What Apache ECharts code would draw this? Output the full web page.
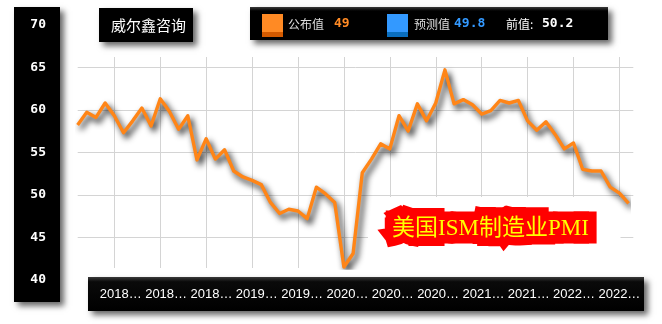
<!DOCTYPE html>
<html><head><meta charset="utf-8">
<script src="https://cdn.jsdelivr.net/npm/echarts@6/dist/echarts.min.js"></script>
<style>html,body{margin:0;padding:0;background:#fff}#c{width:662px;height:324px}</style>
</head><body><div id="c"></div>
<script>
// ---- data ----
const categories = [
  '2017-09-01','2017-10-01','2017-11-01','2017-12-01',
  '2018-01-01','2018-02-01','2018-03-01','2018-04-01','2018-05-01','2018-06-01','2018-07-01','2018-08-01','2018-09-01','2018-10-01','2018-11-01','2018-12-01',
  '2019-01-01','2019-02-01','2019-03-01','2019-04-01','2019-05-01','2019-06-01','2019-07-01','2019-08-01','2019-09-01','2019-10-01','2019-11-01','2019-12-01',
  '2020-01-01','2020-02-01','2020-03-01','2020-04-01','2020-05-01','2020-06-01','2020-07-01','2020-08-01','2020-09-01','2020-10-01','2020-11-01','2020-12-01',
  '2021-01-01','2021-02-01','2021-03-01','2021-04-01','2021-05-01','2021-06-01','2021-07-01','2021-08-01','2021-09-01','2021-10-01','2021-11-01','2021-12-01',
  '2022-01-01','2022-02-01','2022-03-01','2022-04-01','2022-05-01','2022-06-01','2022-07-01','2022-08-01','2022-09-01'
];
const pmiValues = [
  58.2, 59.7, 59.1, 60.8, 59.3, 57.3, 58.7, 60.2, 58.1, 61.3,
  59.8, 57.7, 59.3, 54.1, 56.6, 54.2, 55.3, 52.8, 52.1, 51.7,
  51.2, 49.1, 47.8, 48.3, 48.1, 47.2, 50.9, 50.1, 49.1, 41.5,
  43.1, 52.6, 54.2, 56.0, 55.4, 59.3, 57.5, 60.7, 58.7, 60.8,
  64.7, 60.7, 61.2, 60.6, 59.5, 59.9, 61.1, 60.8, 61.1, 58.7,
  57.6, 58.6, 57.1, 55.4, 56.1, 53.0, 52.8, 52.8, 50.9, 50.2,
  49.0
];
const legendLabels = ['公布值', '预测值', '前值:'];
const legendValues = [49, 49.8, 50.2];
const titleText = '威尔鑫咨询';
const chartLabel = '美国ISM制造业PMI';
const yMin = 40, yMax = 70, yStep = 5;

// ---- styles ----
const LAT = "'Liberation Sans', Arial, sans-serif";
const MONO = "'DejaVu Sans Mono', monospace";
const CJK = "'Noto Sans CJK SC', sans-serif";
const shadowBox = {shadowBlur: 6, shadowOffsetX: 4, shadowOffsetY: 4, shadowColor: 'rgba(0,0,0,0.6)'};
const every5 = (i) => i % 5 === 4;
const gridLineColor = '#d4d4d4';
const labelFont = "23px 'Liberation Serif', 'Noto Sans CJK SC', serif";

function box(x, y, w, h, extra) {
  return {type: 'rect', z: 0, shape: {x, y, width: w, height: h},
    style: Object.assign({fill: '#000'}, shadowBox, extra || {})};
}
function sq(x, c1, c2) {
  return {type: 'rect', z: 1, shape: {x, y: 14, width: 21, height: 23},
    style: {fill: new echarts.graphic.LinearGradient(0, 0, 0, 1, [
      {offset: 0, color: c1}, {offset: 0.8, color: c1}, {offset: 0.8, color: c2}, {offset: 1, color: c2}])}};
}
function txt(x, y, text, font, fill, z) {
  return {type: 'text', z: z || 2, x, y, style: {text, font, fill, align: 'left', verticalAlign: 'middle'}};
}

const graphics = [
  box(14, 7, 46, 295),
  box(99, 8, 94, 34),
  box(250, 7, 358, 33, {fill: new echarts.graphic.LinearGradient(0, 0, 0, 1, [
    {offset: 0, color: '#3a3a3a'}, {offset: 0.12, color: '#000'}, {offset: 1, color: '#000'}])}),
  box(88, 277, 556, 34, {fill: new echarts.graphic.LinearGradient(0, 0, 0, 1, [
    {offset: 0, color: '#3a3a3a'}, {offset: 0.14, color: '#0a0a0a'}, {offset: 1, color: '#000'}])}),
  txt(111, 25, titleText, '15px ' + CJK, '#ffffff'),
  sq(262, '#ff8a24', '#d45a00'),
  txt(288, 24, legendLabels[0], '12px ' + CJK, '#dddddd'),
  txt(334, 24, String(legendValues[0]), 'bold 13px ' + MONO, '#ff8a24'),
  sq(387, '#3399ff', '#0a6fc0'),
  txt(414, 24, legendLabels[1], '12px ' + CJK, '#dddddd'),
  txt(454, 24, String(legendValues[1]), 'bold 13px ' + MONO, '#3399ff'),
  txt(506, 24, legendLabels[2], '12px ' + CJK, '#ffffff'),
  txt(542, 24, String(legendValues[2]), 'bold 13px ' + MONO, '#ffffff'),
  // white patch behind the label
  {type: 'rect', z: 1, shape: {x: 368, y: 197, width: 252.5, height: 72}, style: {fill: '#ffffff'}},
  {type: 'text', z: 3, x: 392, y: 229, style: {text: chartLabel,
    font: labelFont, fill: '#ff0000', stroke: '#ff0000',
    lineWidth: 17, lineJoin: 'round', align: 'left', verticalAlign: 'middle',
    shadowBlur: 5, shadowOffsetX: 3, shadowOffsetY: 4, shadowColor: 'rgba(0,0,0,0.55)'}},
  {type: 'text', z: 4, x: 392, y: 229, style: {text: chartLabel,
    font: labelFont, fill: '#ffff00', align: 'left', verticalAlign: 'middle'}}
];

const chart = echarts.init(document.getElementById('c'));
chart.setOption({
  animation: false,
  backgroundColor: '#ffffff',
  graphic: graphics,
  grid: [
    {left: 80, top: 24.8, width: 553, height: 255},
    {left: 77.7, top: 24.8, width: 555.6, height: 255},
    {left: 77.6, top: 57, width: 551, height: 211}
  ],
  xAxis: [
    {gridIndex: 0, type: 'category', data: categories, boundaryGap: true, z: 10,
      axisLine: {show: false}, axisTick: {show: false}, splitLine: {show: false},
      axisLabel: {interval: every5, color: '#ffffff', fontFamily: LAT, fontSize: 13, margin: 8,
        width: 44, overflow: 'truncate', ellipsis: '…'}},
    {gridIndex: 1, type: 'category', data: categories, show: false},
    {gridIndex: 2, type: 'category', data: categories, boundaryGap: false,
      axisLine: {show: false}, axisTick: {show: false}, axisLabel: {show: false},
      splitLine: {show: true, interval: every5, lineStyle: {color: gridLineColor, width: 1}}}
  ],
  yAxis: [
    {gridIndex: 0, type: 'value', min: yMin, max: yMax, interval: yStep, z: 10,
      axisLine: {show: false}, axisTick: {show: false}, splitLine: {show: false},
      axisLabel: {color: '#ffffff', fontFamily: MONO, fontWeight: 'bold', fontSize: 13, margin: 34}},
    {gridIndex: 1, type: 'value', min: yMin, max: yMax, interval: yStep,
      axisLine: {show: false}, axisTick: {show: false}, axisLabel: {show: false},
      splitLine: {show: true, showMinLine: false, showMaxLine: false, lineStyle: {color: gridLineColor, width: 1}}},
    {gridIndex: 2, type: 'value', min: 41.39, max: 66.21, show: false, splitLine: {show: false}}
  ],
  series: [{
    name: legendLabels[0], type: 'line', xAxisIndex: 2, yAxisIndex: 2, data: pmiValues,
    symbol: 'none', showSymbol: false, z: 2,
    lineStyle: {color: '#ff8517', width: 3.4, shadowColor: 'rgba(0,0,0,0.9)', shadowBlur: 6,
      shadowOffsetX: 3, shadowOffsetY: 4, join: 'round'}
  }]
});
</script></body></html>
